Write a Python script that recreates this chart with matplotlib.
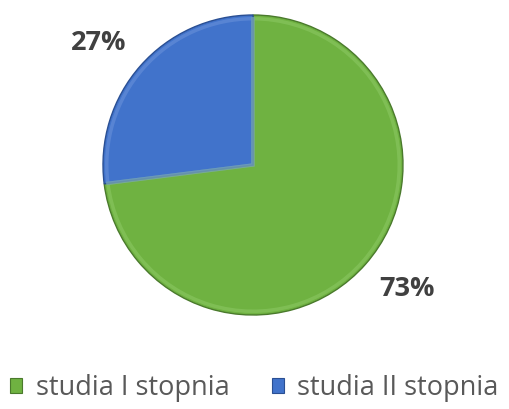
import matplotlib
matplotlib.use("Agg")
import matplotlib.pyplot as plt
from matplotlib.patches import Patch

categories = ["studia I stopnia", "studia II stopnia"]
values = [73, 27]
colors = ["#6FB241", "#4173CB"]
edge_colors = ["#4A7A2C", "#2A4F93"]
rim_colors = ["#8FCB68", "#6F96DC"]

W, H = 509, 409
fig = plt.figure(figsize=(W / 100, H / 100), dpi=100)
cx, cy, r = 253, 409 - 165, 150
ax = fig.add_axes([(cx - r) / W, (cy - r) / H, 2 * r / W, 2 * r / H])

font = ["Open Sans", "DejaVu Sans"]
wedges, texts, autotexts = ax.pie(
    values, colors=colors, startangle=90, counterclock=False,
    autopct=lambda p: f"{p:.0f}%", pctdistance=1.32, radius=1,
    wedgeprops=dict(linewidth=1.0),
    textprops=dict(fontsize=19.5, fontweight="bold", color="#404040",
                   family=font))
for w, ec in zip(wedges, edge_colors):
    w.set_edgecolor(ec)
# label placement (outside end, as in the original)
label_pos = [(1.03, -0.83), (-1.03, 0.81)]
for t, pos in zip(autotexts, label_pos):
    t.set_position(pos)
# subtle bevel rim
rims, _ = ax.pie(values, colors=["none", "none"], startangle=90, counterclock=False,
                 radius=0.975, wedgeprops=dict(linewidth=2.5, fill=False, alpha=0.5))
for w, rc in zip(rims, rim_colors):
    w.set_edgecolor(rc)
ax.set_xlim(-1, 1)
ax.set_ylim(-1, 1)
ax.set_aspect("equal")
ax.axis("off")

handles = [Patch(facecolor=c, edgecolor=ec, linewidth=0.8) for c, ec in zip(colors, edge_colors)]
fig.legend(handles, categories, loc="center", bbox_to_anchor=(0.5, 1 - 388 / H),
           ncol=2, frameon=False, handlelength=0.45, handleheight=0.45,
           handletextpad=0.5, columnspacing=1.55,
           prop=dict(family=font, size=19.5),
           labelcolor="#595959")

fig.savefig("out.png", dpi=100, facecolor="white")
